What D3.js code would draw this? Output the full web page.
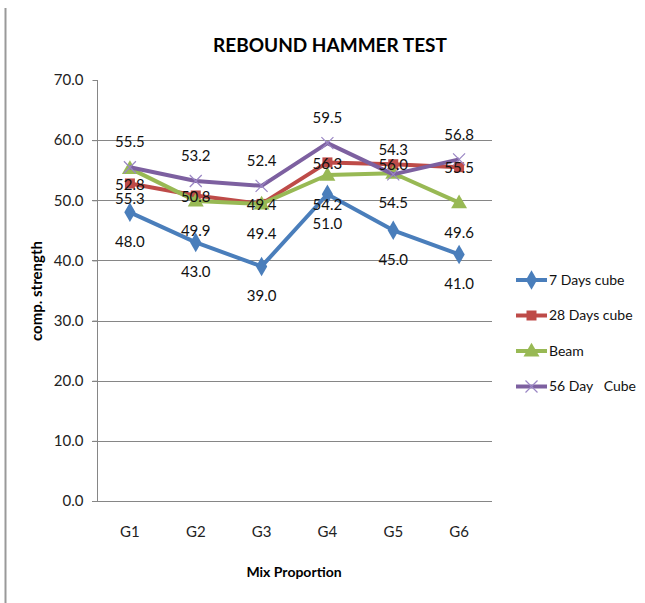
<!DOCTYPE html>
<html>
<head>
<meta charset="utf-8">
<script src="https://cdn.jsdelivr.net/npm/d3@7"></script>
<style>
  body { margin: 0; background: #fff; }
  svg { display: block; }
  text { font-family: Lato, "Open Sans", sans-serif; }
</style>
</head>
<body>
<svg width="645" height="603"></svg>
<script>
// chart data
var groups = ["G1", "G2", "G3", "G4", "G5", "G6"];
var days7 = [48.0, 43.0, 39.0, 51.0, 45.0, 41.0];
var days28 = [52.8, 50.8, 49.4, 56.3, 56.0, 55.5];
var beam = [55.3, 49.9, 49.4, 54.2, 54.5, 49.6];
var day56 = [55.5, 53.2, 52.4, 59.5, 54.3, 56.8];
var seriesNames = ["7 Days cube", "28 Days cube", "Beam", "56 Day   Cube"];
var yTicks = [0, 10, 20, 30, 40, 50, 60, 70];

var series = [
  { name: seriesNames[0], values: days7, color: "#4a7ebb", marker: "diamond", labelDy: 29 },
  { name: seriesNames[1], values: days28, color: "#be4b48", marker: "square", labelDy: 1 },
  { name: seriesNames[2], values: beam, color: "#98b954", marker: "triangle", labelDy: 30 },
  { name: seriesNames[3], values: day56, color: "#7d60a0", marker: "x", labelDy: -25 }
];

var svg = d3.select("svg");

var x = d3.scaleBand().domain(groups).range([97, 492]);
var y = d3.scaleLinear().domain([0, 70]).range([501, 80]);

// left border line of the picture
svg.append("line")
  .attr("x1", 5.5).attr("x2", 5.5).attr("y1", 8).attr("y2", 603)
  .attr("stroke", "#999").attr("stroke-width", 2);

// title
svg.append("text")
  .attr("x", 330).attr("y", 52)
  .attr("text-anchor", "middle")
  .style("font-size", "19px").style("font-weight", "bold")
  .text("REBOUND HAMMER TEST");

// gridlines
svg.append("g")
  .selectAll("line")
  .data(yTicks.filter(function(d) { return d > 0 && d < 70; }))
  .enter().append("line")
  .attr("x1", 92).attr("x2", 492)
  .attr("y1", function(d) { return Math.round(y(d)) + 0.5; })
  .attr("y2", function(d) { return Math.round(y(d)) + 0.5; })
  .attr("stroke", "#868686");

// y axis
var yAxis = svg.append("g")
  .attr("transform", "translate(97.5,0)")
  .call(d3.axisLeft(y).tickValues(yTicks).tickSize(5).tickPadding(9)
    .tickFormat(function(d) { return d3.format(".1f")(d); }));
yAxis.select(".domain").attr("stroke", "#868686").attr("d", "M0," + y(70) + "V" + y(0));
yAxis.selectAll(".tick line").attr("stroke", "#868686");
yAxis.selectAll(".tick text")
  .style("font-size", "15px").attr("fill", "#222")
  .style("font-family", "Lato, sans-serif");

// x axis
var xAxis = svg.append("g")
  .attr("transform", "translate(0," + (Math.round(y(0)) + 0.5) + ")")
  .call(d3.axisBottom(x).tickSize(0).tickPadding(25));
xAxis.select(".domain").attr("stroke", "#868686").attr("d", "M92,0H492");
xAxis.selectAll(".tick text")
  .style("font-size", "15px").attr("fill", "#222")
  .style("font-family", "Lato, sans-serif");

// axis titles
svg.append("text")
  .attr("x", 294).attr("y", 577)
  .attr("text-anchor", "middle")
  .style("font-size", "14px").style("font-weight", "bold")
  .text("Mix Proportion");

svg.append("text")
  .attr("transform", "translate(42,291) rotate(-90)")
  .attr("text-anchor", "middle")
  .style("font-size", "15px").style("font-weight", "bold")
  .text("comp. strength");

function cx(i) { return x(groups[i]) + x.bandwidth() / 2; }

function drawMarker(g, kind, color, px, py) {
  if (kind === "x") {
    var r = 6;
    g.append("path")
      .attr("d", "M" + (px - r) + "," + (py - r) + "L" + (px + r) + "," + (py + r) +
        "M" + (px - r) + "," + (py + r) + "L" + (px + r) + "," + (py - r))
      .attr("stroke", "#9a86c4").attr("stroke-width", 1.2).attr("fill", "none");
    return;
  }
  var type = kind === "diamond" ? d3.symbolDiamond : kind === "square" ? d3.symbolSquare : d3.symbolTriangle;
  var size = kind === "diamond" ? 110 : kind === "square" ? 100 : 110;
  g.append("path")
    .attr("d", d3.symbol().type(type).size(size)())
    .attr("transform", "translate(" + px + "," + (kind === "triangle" ? py + 1 : py) + ")")
    .attr("fill", color);
}

var line = d3.line()
  .x(function(d, i) { return cx(i); })
  .y(function(d) { return y(d); });

var plot = svg.append("g");
series.forEach(function(s) {
  var g = plot.append("g");
  g.append("path")
    .datum(s.values)
    .attr("d", line)
    .attr("fill", "none")
    .attr("stroke", s.color)
    .attr("stroke-width", 4)
    .attr("stroke-linejoin", "round");
  s.values.forEach(function(v, i) {
    drawMarker(g, s.marker, s.color, cx(i), y(v));
  });
});

// data labels
var labels = svg.append("g");
series.forEach(function(s) {
  labels.selectAll(null)
    .data(s.values)
    .enter().append("text")
    .attr("x", function(d, i) { return cx(i); })
    .attr("y", function(d) { return y(d) + s.labelDy; })
    .attr("dy", "0.35em")
    .attr("text-anchor", "middle")
    .style("font-size", "15px")
    .attr("fill", "#111")
    .text(function(d) { return d3.format(".1f")(d); });
});

// legend
var legend = svg.append("g");
series.forEach(function(s, i) {
  var ly = 280 + i * 35.5;
  var lg = legend.append("g");
  lg.append("line")
    .attr("x1", 516).attr("x2", 547).attr("y1", ly).attr("y2", ly)
    .attr("stroke", s.color).attr("stroke-width", 4);
  drawMarker(lg, s.marker, s.color, 531.5, ly);
  lg.append("text")
    .attr("x", 549).attr("y", ly).attr("dy", "0.35em")
    .style("font-size", "14px")
    .style("white-space", "pre")
    .attr("xml:space", "preserve")
    .attr("fill", "#111")
    .text(s.name);
});
</script>
</body>
</html>
